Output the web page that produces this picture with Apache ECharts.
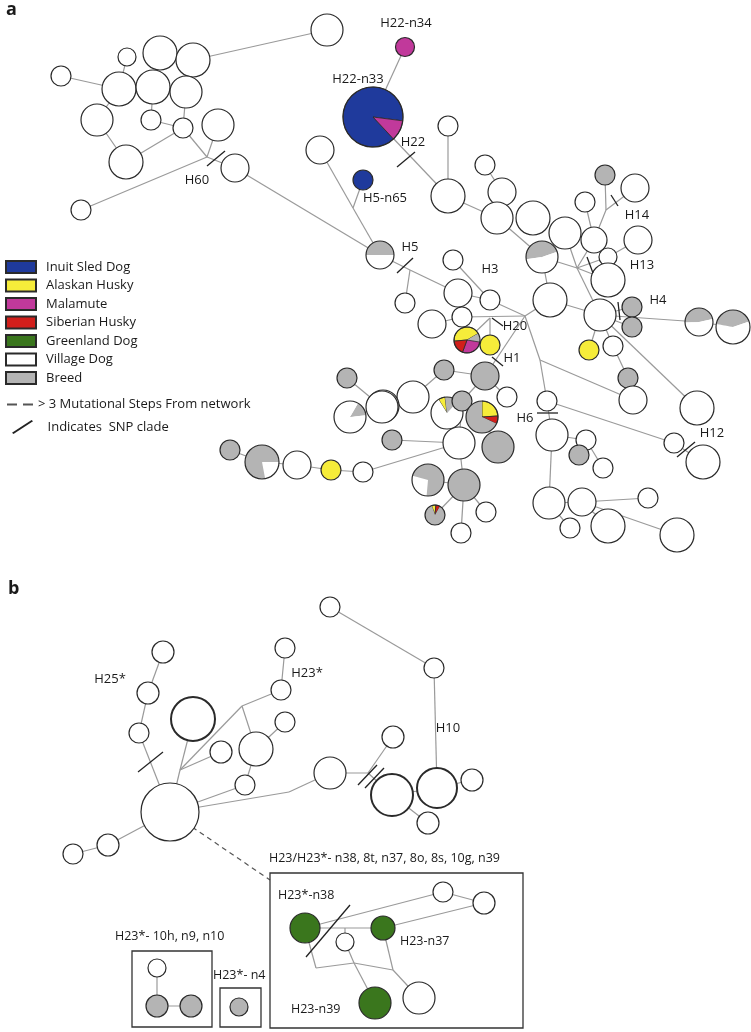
<!DOCTYPE html>
<html><head><meta charset="utf-8">
<script src="https://cdn.jsdelivr.net/npm/echarts@6/dist/echarts.min.js"></script>
<style>html,body{margin:0;padding:0;background:#fff}#c{width:751px;height:1032px}</style>
</head><body><div id="c"></div>
<script>
// ---- categories / legend ----
const categories = ['Inuit Sled Dog','Alaskan Husky','Malamute','Siberian Husky','Greenland Dog','Village Dog','Breed'];
const catCodes   = ['B','Y','M','R','N','W','K'];
const catColors  = ['#1f3a9c','#f6ec3a','#c1399b','#d21f1b','#3a761d','#ffffff','#b4b4b4'];
const extraLegend = ['> 3 Mutational Steps From network','Indicates  SNP clade'];

// ---- nodes: [id, x, y, radius, composition, startAngleDeg] ----
const panelANodes = [
 ['a1',327,30,16,'W'],['a2',160,53,17,'W'],['a3',127,57,9,'W'],['a4',193,60,17,'W'],['a5',61,76,10,'W'],
 ['a6',119,89,17,'W'],['a7',153,87,17,'W'],['a8',186,92,16,'W'],['a9',97,120,16,'W'],['a10',151,120,10,'W'],
 ['a11',183,128,10,'W'],['a12',218,125,16,'W'],['a13',126,162,17,'W'],['a14',235,168,14,'W'],['a15',81,210,10,'W'],
 ['n34',405,47,9.5,'M'],['n33',373,117,30,[['B',0.89],['M',0.11]],47],
 ['a20',320,150,14,'W'],['n65',363,180,10,'B'],['h5',380,255,14,[['K',0.5],['W',0.5]],180],
 ['a21',448,126,10,'W'],['a22',448,196,17,'W'],['a23',485,165,10,'W'],['a24',502,192,14,'W'],['a25',497,218,16,'W'],
 ['a26',533,218,17,'W'],['a27',565,233,16,'W'],['a28',594,240,13,'W'],['a29',585,202,10,'W'],['a30',605,175,10,'K'],
 ['a31',635,188,14,'W'],['a32',638,240,14,'W'],['a33',542,257,16,[['K',0.47],['W',0.53]],172],['a34',608,257,9,'W'],['a35',608,280,17,'W'],
 ['a36',453,260,10,'W'],['a37',458,293,14,'W'],['a38',490,300,10,'W'],['a39',405,303,10,'W'],['a40',432,324,14,'W'],
 ['a41',462,317,10,'W'],['a42',550,300,17,'W'],['a43',600,315,16,'W'],['a44',632,307,10,'K'],['a45',632,327,10,'K'],
 ['a46',699,322,14,[['K',0.47],['W',0.53]],178],['a47',733,327,17,[['K',0.42],['W',0.58]],190],
 ['a48',589,350,10,'Y'],['a49',613,346,10,'W'],['a50',628,378,10,'K'],['a51',633,400,14,'W'],['a52',697,408,17,'W'],
 ['a53',547,401,10,'W'],['a54',552,435,16,'W'],['a55',586,440,10,'W'],['a56',579,455,10,'K'],['a57',603,468,10,'W'],
 ['a58',674,443,10,'W'],['a59',703,462,17,'W'],['a60',549,503,16,'W'],['a61',582,502,14,'W'],['a62',648,498,10,'W'],
 ['a63',570,528,10,'W'],['a64',608,526,17,'W'],['a65',677,535,17,'W'],
 ['p20',467,340,13,[['Y',0.43],['K',0.11],['M',0.28],['R',0.18]],175],['a66',490,345,10,'Y'],
 ['a67',444,370,10,'K'],['a68',485,376,14,'K'],['a69',507,397,10,'W'],['a70',413,397,16,'W'],['a71',383,406,16,'W'],
 ['p2',447,413,16,[['Y',0.07],['K',0.14],['W',0.79]],238],['a72',462,401,10,'K'],
 ['p3',482,417,16,[['Y',0.24],['R',0.08],['K',0.68]],270],['a73',498,447,16,'K'],['a74',459,443,16,'W'],['a75',392,440,10,'K'],
 ['a76',428,480,16,[['W',0.28],['K',0.72]],95],['a77',464,485,16,'K'],['p4',435,515,10,[['Y',0.07],['R',0.07],['K',0.86]],250],
 ['a78',486,512,10,'W'],['a79',461,533,10,'W'],
 ['a80',347,378,10,'K'],['p5',350,417,16,[['K',0.15],['W',0.85]],300],['a81',382,407,16,'W'],
 ['a83',230,450,10,'K'],['p6',262,462,17,[['W',0.22],['K',0.78]],0],['a84',297,465,14,'W'],['a85',331,470,10,'Y'],['a86',363,472,10,'W']
];
const panelBNodes = [
 ['b1',330,607,10,'W'],['b2',163,652,11,'W'],['b3',285,648,10,'W'],['b4',148,693,11,'W'],['b5',281,690,10,'W'],
 ['b6',193,719,22,'W',0,true],['b7',285,722,10,'W'],['b8',139,733,10,'W'],['b9',221,752,11,'W'],['b10',256,749,17,'W'],
 ['b11',245,785,10,'W'],['b12',330,773,16,'W'],['b13',170,812,29,'W'],['b14',108,845,11,'W'],['b15',73,854,10,'W'],
 ['b16',434,668,10,'W'],['b17',393,737,11,'W'],['b18',392,795,21,'W',0,true],['b19',437,788,20,'W',0,true],
 ['b20',472,780,11,'W'],['b21',428,823,11,'W'],
 ['c1',305,928,15,'N'],['c2',345,942,9,'W'],['c3',383,928,12,'N'],['c4',443,892,10,'W'],['c5',484,903,11,'W'],
 ['c6',375,1003,16,'N'],['c7',419,998,16,'W'],
 ['d1',157,968,9,'W'],['d2',157,1006,11,'K'],['d3',191,1006,11,'K'],['e1',239,1007,9,'K']
];
const junctions = [
 ['j1',207,157],['j2',353,208],['j3',606,210],['jc',577,268],['jh5',410,270],['jm',525,316],['jp',490,318],['jh6',540,360],
 ['jb1',180,770],['jb2',242,706],['jb3',289,792],['jb4',368,773],
 ['cj1',345,928],['cj2',316,968],['cj3',354,963],['cj4',393,970],['bx',270,880]
];

// ---- edges ----
const edgesA = [
 ['a1','a4'],['a5','a6'],['a3','a6'],['a6','a9'],['a7','a10'],['a10','a11'],['a9','a13'],['a13','a11'],['a8','a11'],
 ['a11','j1'],['a12','j1'],['j1','a15'],['j1','a14'],['a14','h5'],
 ['n34','n33'],['n33','a22'],['a20','j2'],['n65','j2'],['j2','h5'],['h5','jh5'],['jh5','a39'],['jh5','a37'],
 ['a21','a22'],['a23','a24'],['a22','a25'],['a25','a33'],['a28','a29'],['a30','j3'],['a31','j3'],['j3','a28'],
 ['a33','jc'],['a28','jc'],['a27','jc'],['a34','jc'],['a35','jc'],['jc','a43'],['a34','a32'],['a33','a42'],['a42','a43'],
 ['a36','a38'],['a37','a38'],['a38','jm'],['a41','jm'],['a40','a41'],['jm','a42'],['jm','jh6'],['jh6','a53'],['jh6','a51'],
 ['p20','jp'],['a66','jp'],['a68','jm'],
 ['a43','a44'],['a43','a45'],['a43','a46'],['a46','a47'],['a43','a48'],['a43','a49'],['a49','a50'],['a50','a51'],['a43','a52'],
 ['a53','a54'],['a53','a58'],['a58','a59'],['a54','a55'],['a55','a56'],['a55','a57'],['a54','a60'],['a60','a63'],
 ['a60','a61'],['a61','a62'],['a61','a65'],['a61','a64'],
 ['a67','a68'],['a67','a70'],['a70','a71'],['a68','a72'],['a72','p2'],['a72','p3'],['p3','a73'],['a68','a69'],
 ['a74','a75'],['a74','a86'],['a74','a77'],['a72','a74'],['a77','p4'],['a77','a78'],['a77','a79'],['a76','a77'],
 ['a80','a81'],['a81','p5'],['a81','a70'],['a83','p6'],['p6','a84'],['a84','a85'],['a85','a86']
];
const edgesB = [
 ['b2','b4'],['b4','b8'],['b8','b13'],['b6','jb1'],['jb1','b13'],['jb1','b9'],['jb1','jb2'],['jb2','b5'],['jb2','b10'],
 ['b10','b7'],['b10','b11'],['b11','b13'],['b5','b3'],['b13','jb3'],['jb3','b12'],['b12','jb4'],['jb4','b17'],['jb4','b18'],
 ['b18','b21'],['b18','b19'],['b19','b20'],['b1','b16'],['b16','b19'],['b13','b14'],['b14','b15'],
 ['c1','c4'],['c1','c3'],['c2','cj1'],['c2','cj3'],['c1','cj2'],['cj2','cj3'],['cj3','cj4'],['cj3','c6'],['cj4','c7'],
 ['cj4','c3'],['c3','c5'],['c4','c5'],['d1','d2'],['d2','d3']
];
const dashedEdges = [['b13','bx']];

// ---- SNP clade marks [x1,y1,x2,y2] ----
const snpMarks = [
 [207,166,225,151],[397,167,415,152],[397,273,413,258],[611,195,618,206],[587,257,593,273],[492,318,503,326],
 [492,357,503,366],[618,302,620,320],[537,413,558,413],[677,457,695,442],
 [138,772,163,752],[358,785,377,765],[365,788,384,768],[306,957,350,905]
];

// ---- boxes [x1,y1,x2,y2] ----
const boxes = [[270,873,523,1028],[132,951,212,1027],[220,988,261,1027]];

// ---- labels ----
const centerLabels = [
 ['H60',197,180],['H22-n34',406,23],['H22-n33',358,79],['H22',413,142],['H5-n65',385,198],['H5',410,247],
 ['H3',490,269],['H14',637,215],['H13',642,265],['H4',658,300],['H20',515,326],['H1',512,358],['H6',525,418],['H12',712,433],
 ['H25*',110,679],['H23*',307,673],['H10',448,728]
];
const leftLabels = [
 ['H23/H23*- n38, 8t, n37, 8o, 8s, 10g, n39',269,858],['H23*- 10h, n9, n10',115,936],['H23*- n4',213,975],
 ['H23*-n38',278,895],['H23-n37',400,941],['H23-n39',291,1009]
];
const panelLetters = [['a',6,10],['b',8,589]];

// ---------------- build ----------------
const FONT = '"Open Sans", "Noto Sans", sans-serif';
const colorOf = {}; catCodes.forEach((c,i)=>colorOf[c]=catColors[i]);
const allNodes = panelANodes.concat(panelBNodes);
const pos = {};
allNodes.forEach(n=>pos[n[0]]=[n[1],n[2]]);
junctions.forEach(j=>pos[j[0]]=[j[1],j[2]]);

const nodeData = allNodes.map(n=>[n[1],n[2],n[3]]);
const edgeData = edgesA.concat(edgesB).map(e=>[pos[e[0]][0],pos[e[0]][1],pos[e[1]][0],pos[e[1]][1]]);
const dashData = dashedEdges.map(e=>[pos[e[0]][0],pos[e[0]][1],pos[e[1]][0],pos[e[1]][1]]);

function lineRender(dashed, color, width){
  return function(params, api){
    const p1 = api.coord([api.value(0),api.value(1)]);
    const p2 = api.coord([api.value(2),api.value(3)]);
    return {type:'line', shape:{x1:p1[0],y1:p1[1],x2:p2[0],y2:p2[1]},
      style:{stroke:color,lineWidth:width,lineDash:dashed?[5,4]:null}};
  };
}

function nodeRender(params, api){
  const n = allNodes[params.dataIndex];
  const c = api.coord([api.value(0),api.value(1)]);
  const r = api.size([api.value(2),0])[0];
  const comp = n[4];
  const bw = n[6] ? 2 : 1.2;
  const children = [];
  if (typeof comp === 'string') {
    children.push({type:'circle', shape:{cx:c[0],cy:c[1],r:r}, style:{fill:colorOf[comp],stroke:'#2a2a2a',lineWidth:bw}});
  } else {
    let a = (n[5]||0);
    comp.forEach(([code,f])=>{
      const s = a*Math.PI/180, e = (a+f*360)*Math.PI/180;
      children.push({type:'sector', shape:{cx:c[0],cy:c[1],r:r,r0:0,startAngle:s,endAngle:e,clockwise:true},
        style:{fill:colorOf[code],stroke:(code==='W'||code==='K')?null:'#2a2a2a',lineWidth:0.8}});
      a += f*360;
    });
    children.push({type:'circle', shape:{cx:c[0],cy:c[1],r:r}, style:{fill:null,stroke:'#2a2a2a',lineWidth:bw}});
  }
  return {type:'group', children};
}

function boxRender(params, api){
  const p1 = api.coord([api.value(0),api.value(1)]);
  const p2 = api.coord([api.value(2),api.value(3)]);
  return {type:'rect', shape:{x:p1[0],y:p1[1],width:p2[0]-p1[0],height:p2[1]-p1[1]},
    style:{fill:null,stroke:'#333',lineWidth:1.3}};
}

function textRender(list, align, size, weight){
  return function(params, api){
    const item = list[params.dataIndex];
    const p = api.coord([api.value(0),api.value(1)]);
    return {type:'text', x:p[0], y:p[1], style:{text:item[0], fill:'#1a1a1a', fontFamily:FONT, fontSize:size,
      fontWeight:weight||'normal', align:align, verticalAlign:'middle'}};
  };
}

const series = [];
// legend-only series
categories.forEach((name,i)=>{
  series.push({type:'custom', name, data:[], renderItem:()=>null,
    itemStyle:{color:catColors[i],borderColor:'#2a2a2a',borderWidth:1.2}});
});
series.push({type:'custom', name:extraLegend[0], data:[], renderItem:()=>null, itemStyle:{color:'#555'}});
series.push({type:'custom', name:extraLegend[1], data:[], renderItem:()=>null, itemStyle:{color:'#222'}});

series.push({type:'custom', renderItem:lineRender(false,'#9a9a9a',1.2), data:edgeData, z:1, silent:true});
series.push({type:'custom', renderItem:lineRender(true,'#555',1.2), data:dashData, z:1, silent:true});
series.push({type:'custom', renderItem:boxRender, data:boxes, z:2, silent:true});
series.push({type:'custom', renderItem:nodeRender, data:nodeData, z:3, silent:true});
series.push({type:'custom', renderItem:lineRender(false,'#222',1.3), data:snpMarks, z:4, silent:true});
series.push({type:'custom', renderItem:textRender(centerLabels,'center',13), data:centerLabels.map(l=>[l[1],l[2]]), z:5, silent:true});
series.push({type:'custom', renderItem:textRender(leftLabels,'left',12.5), data:leftLabels.map(l=>[l[1],l[2]]), z:5, silent:true});
series.push({type:'custom', renderItem:textRender(panelLetters,'left',18,'bold'), data:panelLetters.map(l=>[l[1],l[2]]), z:5, silent:true});

const chart = echarts.init(document.getElementById('c'), null, {renderer:'canvas'});
chart.setOption({
  animation:false,
  backgroundColor:'#fff',
  grid:{left:0,right:0,top:0,bottom:0},
  xAxis:{type:'value',min:0,max:751,show:false},
  yAxis:{type:'value',min:0,max:1032,inverse:true,show:false},
  legend:[
    {data:categories, orient:'vertical', left:0, top:255, itemWidth:30, itemHeight:12, itemGap:4.5, icon:'rect',
     selectedMode:false, textStyle:{fontFamily:FONT,fontSize:13,color:'#1a1a1a',padding:[0,0,0,5]}},
    {data:[{name:extraLegend[0], icon:'path://M0,0h10v2h-10zM16,0h10v2h-10z'}], left:2, top:393, itemWidth:26, itemHeight:2,
     selectedMode:false, textStyle:{fontFamily:FONT,fontSize:13,color:'#1a1a1a',padding:[0,0,0,0]}},
    {data:[{name:extraLegend[1], icon:'path://M0,13L20,0L21.5,1.3L1.5,14.3Z'}], left:7, top:415, itemWidth:22, itemHeight:14,
     selectedMode:false, textStyle:{fontFamily:FONT,fontSize:13,color:'#1a1a1a',padding:[0,0,0,9]}}
  ],
  series
});
</script></body></html>
